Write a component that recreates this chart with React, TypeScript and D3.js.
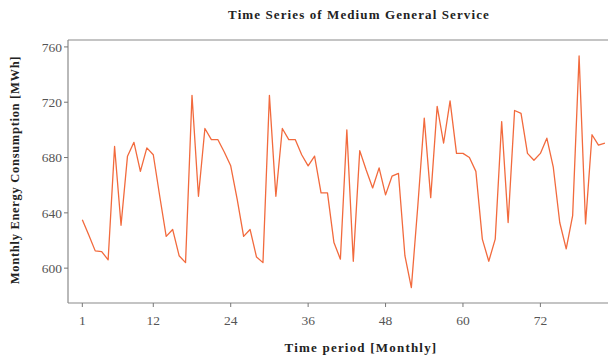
import React from 'react';
import * as d3 from 'd3';

// monthly energy consumption (MWh), months 1..82
const consumption = [
  635, 624, 612.5, 612, 606, 688, 631, 681, 691, 670, 687, 682,
  652, 623, 628, 609, 604, 725, 652, 701, 693, 693, 684, 674,
  650, 623, 628, 608, 604, 725, 652, 701, 693, 693, 682, 674,
  681, 654.5, 654.5, 618.5, 606.5, 700, 605, 685, 671, 658, 672.5, 653,
  666.5, 668.5, 609, 586, 645, 708.5, 651, 717, 690.5, 721, 683, 683,
  680, 670, 621, 605, 621, 706, 633, 714, 712, 683, 678, 683,
  694, 673, 633, 614, 638, 753.5, 632, 696.5, 689, 690.5,
];
const months = consumption.map((_, i) => i + 1);
const xTicks = [1, 12, 24, 36, 48, 60, 72];
const yTicks = [600, 640, 680, 720, 760];

const W = 608;
const H = 360;
const m = { l: 68, t: 40, r: -4, b: 57 };

const font = '"Liberation Serif", "DejaVu Serif", serif';

export default function App() {
  const x = d3.scaleLinear().domain([-1.22, 83.1]).range([m.l, W - m.r]);
  const y = d3.scaleLinear().domain([574.8, 765]).range([H - m.b, m.t]);

  const line = d3
    .line<number>()
    .x((_, i) => x(months[i]))
    .y(d => y(d))(consumption) || '';

  const bottom = H - m.b;

  return (
    <svg
      width={W}
      height={H}
      style={{ position: 'fixed', left: 0, top: 0, background: '#fff' }}
    >
      <text x={359} y={19} textAnchor="middle" fontFamily={font} fontSize={13} fontWeight="bold" fill="#222" letterSpacing={1.1}>
        Time Series of Medium General Service
      </text>

      {/* frame */}
      <line x1={m.l} y1={m.t} x2={W + 5} y2={m.t} stroke="#8a8a8a" strokeWidth={1.2} />
      <line x1={m.l} y1={bottom} x2={W + 5} y2={bottom} stroke="#8a8a8a" strokeWidth={1.2} />
      <line x1={m.l} y1={m.t} x2={m.l} y2={bottom} stroke="#8a8a8a" strokeWidth={1.2} />

      {/* y axis */}
      {yTicks.map(t => (
        <g key={t}>
          <line x1={m.l - 4} x2={m.l} y1={y(t)} y2={y(t)} stroke="#777" />
          <text x={m.l - 6} y={y(t)} dy="0.35em" textAnchor="end" fontFamily={font} fontSize={13.5} fill="#555">
            {t}
          </text>
        </g>
      ))}

      {/* x axis */}
      {xTicks.map(t => (
        <g key={t}>
          <line x1={x(t)} x2={x(t)} y1={bottom} y2={bottom + 4} stroke="#777" />
          <text x={x(t)} y={bottom + 22} textAnchor="middle" fontFamily={font} fontSize={13.5} fill="#555">
            {t}
          </text>
        </g>
      ))}

      <path d={line} fill="none" stroke="#f26a3d" strokeWidth={1.3} strokeLinejoin="round" />

      <text x={361} y={352} textAnchor="middle" fontFamily={font} fontSize={13} fontWeight="bold" fill="#222" letterSpacing={1.2}>
        Time period [Monthly]
      </text>
      <text
        transform={`translate(19, 170) rotate(-90)`}
        textAnchor="middle"
        fontFamily={font}
        fontSize={12.5}
        fontWeight="bold"
        fill="#222"
        letterSpacing={0.7}
      >
        Monthly Energy Consumption [MWh]
      </text>
    </svg>
  );
}
